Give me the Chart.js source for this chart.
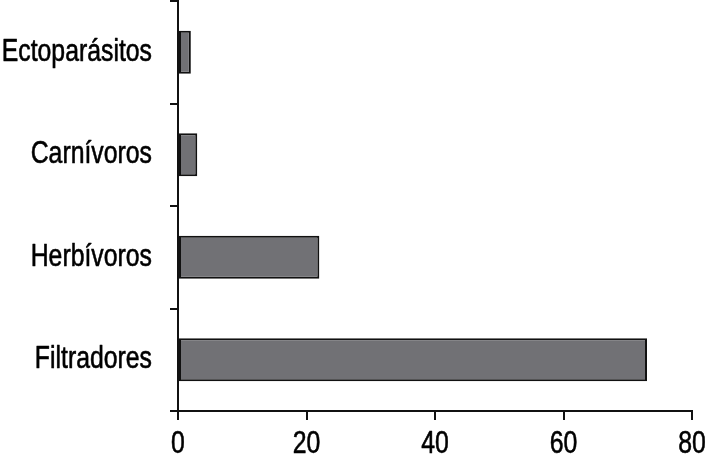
<!DOCTYPE html>
<html>
<head>
<meta charset="utf-8">
<script src="https://cdn.jsdelivr.net/npm/chart.js@4"></script>
<style>
html,body{margin:0;padding:0;background:#fff;}
#wrap{width:709px;height:455px;position:relative;}
</style>
</head>
<body>
<div id="wrap"><canvas id="c" width="709" height="455"></canvas></div>
<script>
const categories = ['Ectoparásitos', 'Carnívoros', 'Herbívoros', 'Filtradores'];
const values = [2, 3, 22, 73];
const xTicks = [0, 20, 40, 60, 80];

const FONT = '"Liberation Sans", Arial, Helvetica, sans-serif';
const SQUEEZE = 0.8; // condensed look of the original typeface

// draw tick labels horizontally condensed, at the positions computed by Chart.js
function condenseLabels(scale) {
  scale.drawLabels = function (chartArea) {
    const ctx = this.ctx;
    const items = this.getLabelItems(chartArea);
    for (const it of items) {
      const o = it.options;
      ctx.save();
      ctx.translate(o.translation[0], o.translation[1]);
      ctx.scale(SQUEEZE, 1);
      ctx.font = it.font.string;
      ctx.fillStyle = o.color;
      ctx.strokeStyle = o.color;
      ctx.lineWidth = 0.6;
      ctx.lineJoin = 'round';
      ctx.textAlign = o.textAlign;
      ctx.textBaseline = o.textBaseline;
      ctx.fillText(String(it.label), 0, it.textOffset);
      ctx.strokeText(String(it.label), 0, it.textOffset);
      ctx.restore();
    }
  };
}

new Chart(document.getElementById('c'), {
  type: 'bar',
  data: {
    labels: categories,
    datasets: [{
      data: values,
      backgroundColor: '#717175',
      borderColor: '#111',
      borderWidth: 2,
      borderSkipped: false,
      barPercentage: 0.42,
      categoryPercentage: 1
    }]
  },
  options: {
    indexAxis: 'y',
    responsive: false,
    animation: false,
    devicePixelRatio: 1,
    layout: { padding: { top: 1, right: 17, bottom: 0, left: 0 } },
    plugins: { legend: { display: false }, tooltip: { enabled: false } },
    scales: {
      x: {
        type: 'linear',
        min: 0, max: 80,
        afterBuildTicks: s => { s.ticks = xTicks.map(v => ({ value: v })); },
        afterFit: s => {
          s.height = 44;
          s.paddingLeft = 0; s.paddingRight = 0;
          condenseLabels(s);
        },
        border: { display: true, color: '#111', width: 2 },
        grid: { drawOnChartArea: false, drawTicks: true, tickLength: 9, color: '#111', lineWidth: 2 },
        ticks: { color: '#000', padding: 6, font: { family: FONT, size: 31 }, maxRotation: 0 }
      },
      y: {
        type: 'category',
        afterFit: s => {
          s.width = 178;
          s.paddingTop = 0; s.paddingBottom = 0;
          condenseLabels(s);
        },
        border: { display: true, color: '#111', width: 2 },
        grid: { drawOnChartArea: false, drawTicks: true, tickLength: 8, color: '#111', lineWidth: 2, offset: true },
        ticks: { color: '#000', padding: 18, font: { family: FONT, size: 31 } }
      }
    }
  }
});
</script>
</body>
</html>
